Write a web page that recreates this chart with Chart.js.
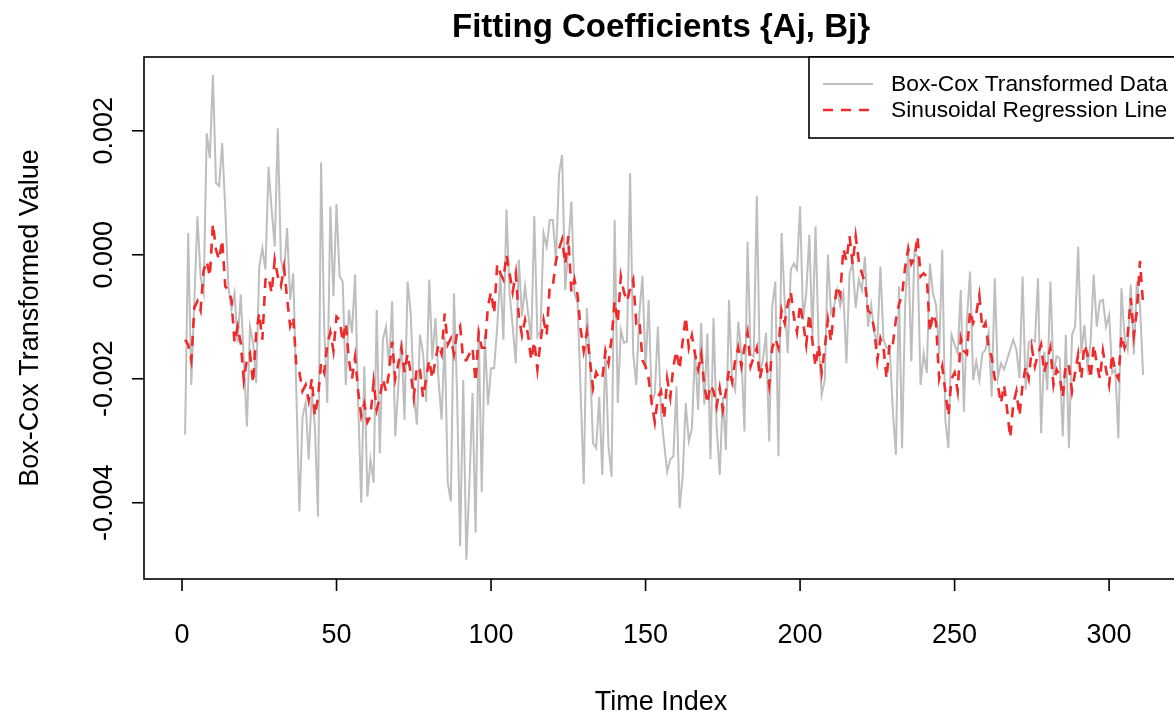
<!DOCTYPE html>
<html>
<head>
<meta charset="utf-8">
<script src="https://cdn.jsdelivr.net/npm/chart.js@4"></script>
<style>
  html, body { margin: 0; padding: 0; background: #fff; }
  #wrap { width: 1174px; height: 718px; }
</style>
</head>
<body>
<div id="wrap"><canvas id="fitChart" width="1174" height="718"></canvas></div>
<script>
// x positions: time index 1..311
const timeIndex = Array.from({ length: 311 }, (_, i) => i + 1);

// grey series
const boxCoxData = [
  -0.00290, 0.00035, -0.00210, -0.00073, 0.00062, -0.00035, -0.00062, 0.00196, 0.00156, 0.00290,
  0.00116, 0.00111, 0.00180, 0.00073, -0.00051, -0.00089, -0.00062, -0.00142, -0.00064, -0.00169,
  -0.00277, -0.00116, -0.00142, -0.00207, -0.00019, 0.00011, -0.00024, 0.00142, 0.00073, 0.00013,
  0.00204, -0.00008, -0.00030, 0.00043, -0.00073, -0.00030, -0.00223, -0.00414, -0.00261, -0.00239,
  -0.00330, -0.00223, -0.00277, -0.00422, 0.00149, -0.00116, -0.00239, 0.00078, -0.00067, 0.00082,
  -0.00035, -0.00043, -0.00210, -0.00089, -0.00126, -0.00032, -0.00239, -0.00400, -0.00180, -0.00390,
  -0.00330, -0.00368, -0.00089, -0.00320, -0.00137, -0.00116, -0.00180, -0.00075, -0.00293, -0.00212,
  -0.00137, -0.00266, -0.00043, -0.00094, -0.00223, -0.00274, -0.00129, -0.00159, -0.00237, -0.00040,
  -0.00169, -0.00102, -0.00202, -0.00266, -0.00132, -0.00368, -0.00398, -0.00062, -0.00223, -0.00470,
  -0.00202, -0.00492, -0.00370, -0.00223, -0.00448, -0.00118, -0.00383, -0.00129, -0.00242, -0.00183,
  -0.00183, -0.00116, -0.00030, -0.00137, 0.00073, -0.00062, -0.00116, -0.00175, -0.00008, -0.00099,
  -0.00051, -0.00094, -0.00137, 0.00062, -0.00132, -0.00124, 0.00035, 0.00013, 0.00056, 0.00056,
  -0.00008, 0.00130, 0.00161, -0.00057, 0.00013, 0.00086, -0.00062, -0.00078, -0.00223, -0.00370,
  -0.00086, -0.00169, -0.00304, -0.00312, -0.00229, -0.00355, -0.00153, -0.00309, -0.00358, 0.00056,
  -0.00239, -0.00121, -0.00142, -0.00140, 0.00132, -0.00159, -0.00210, -0.00094, -0.00034, -0.00185,
  -0.00073, -0.00239, -0.00223, -0.00116, -0.00255, -0.00304, -0.00350, -0.00330, -0.00325, -0.00212,
  -0.00409, -0.00358, -0.00239, -0.00301, -0.00280, -0.00153, -0.00250, -0.00110, -0.00242, -0.00127,
  -0.00330, -0.00102, -0.00277, -0.00355, -0.00229, -0.00315, -0.00073, -0.00202, -0.00218, -0.00108,
  -0.00159, -0.00285, 0.00021, -0.00160, -0.00164, 0.00095, -0.00191, -0.00169, -0.00126, -0.00301,
  -0.00083, -0.00043, -0.00325, 0.00035, -0.00073, -0.00159, -0.00024, -0.00014, -0.00024, 0.00078,
  -0.00105, -0.00062, 0.00032, -0.00132, 0.00046, -0.00142, -0.00226, -0.00202, 0.00000, -0.00094,
  -0.00083, -0.00057, -0.00083, -0.00062, -0.00175, -0.00030, -0.00014, -0.00086, -0.00040, -0.00057,
  -0.00003, -0.00116, -0.00081, -0.00126, -0.00142, -0.00019, -0.00137, -0.00150, -0.00148, -0.00250,
  -0.00323, -0.00051, -0.00312, -0.00081, 0.00008, -0.00172, 0.00003, -0.00003, -0.00210, -0.00159,
  -0.00191, -0.00014, -0.00062, -0.00081, -0.00160, 0.00008, -0.00266, -0.00312, -0.00129, -0.00145,
  -0.00159, -0.00057, -0.00253, -0.00105, -0.00027, -0.00202, -0.00172, -0.00202, -0.00159, -0.00153,
  -0.00126, -0.00229, -0.00038, -0.00199, -0.00175, -0.00185, -0.00169, -0.00153, -0.00137, -0.00153,
  -0.00199, -0.00035, -0.00218, -0.00142, -0.00137, -0.00140, -0.00038, -0.00288, -0.00156, -0.00218,
  -0.00043, -0.00191, -0.00164, -0.00167, -0.00293, -0.00129, -0.00312, -0.00129, -0.00116, 0.00013,
  -0.00159, -0.00113, -0.00180, -0.00142, -0.00032, -0.00116, -0.00075, -0.00073, -0.00116, -0.00097,
  -0.00191, -0.00185, -0.00296, -0.00054, -0.00132, -0.00153, -0.00048, -0.00161, -0.00043, -0.00081, -0.00194
];

// red dashed fit
const sinusoidalFit = [
  -0.00137, -0.00145, -0.00170, -0.00085, -0.00075, -0.00090, -0.00025, -0.00010, -0.00035, 0.00050,
  0.00008, -0.00008, 0.00024, -0.00051, -0.00057, -0.00073, -0.00142, -0.00116, -0.00142, -0.00202,
  -0.00169, -0.00159, -0.00207, -0.00126, -0.00094, -0.00137, -0.00040, -0.00035, -0.00062, -0.00008,
  -0.00035, -0.00050, -0.00020, -0.00070, -0.00115, -0.00100, -0.00180, -0.00190, -0.00220, -0.00210,
  -0.00235, -0.00200, -0.00260, -0.00230, -0.00175, -0.00190, -0.00145, -0.00125, -0.00155, -0.00100,
  -0.00105, -0.00140, -0.00110, -0.00170, -0.00200, -0.00165, -0.00220, -0.00260, -0.00240, -0.00270,
  -0.00260, -0.00205, -0.00250, -0.00230, -0.00200, -0.00220, -0.00190, -0.00140, -0.00200, -0.00175,
  -0.00150, -0.00190, -0.00160, -0.00190, -0.00230, -0.00180, -0.00185, -0.00230, -0.00200, -0.00170,
  -0.00200, -0.00170, -0.00145, -0.00160, -0.00095, -0.00145, -0.00135, -0.00160, -0.00125, -0.00115,
  -0.00170, -0.00170, -0.00160, -0.00150, -0.00205, -0.00126, -0.00150, -0.00150, -0.00083, -0.00060,
  -0.00095, -0.00015, -0.00030, -0.00040, 0.00000, -0.00030, -0.00060, -0.00030, -0.00100, -0.00130,
  -0.00105, -0.00130, -0.00170, -0.00140, -0.00185, -0.00140, -0.00105, -0.00130, -0.00050, -0.00050,
  -0.00010, 0.00010, 0.00025, -0.00015, 0.00030, -0.00060, -0.00040, -0.00065, -0.00120, -0.00155,
  -0.00125, -0.00170, -0.00215, -0.00190, -0.00200, -0.00200, -0.00155, -0.00175, -0.00135, -0.00075,
  -0.00110, -0.00035, -0.00060, -0.00075, -0.00055, -0.00040, -0.00110, -0.00105, -0.00170, -0.00180,
  -0.00200, -0.00240, -0.00270, -0.00230, -0.00220, -0.00265, -0.00200, -0.00230, -0.00180, -0.00155,
  -0.00185, -0.00140, -0.00100, -0.00150, -0.00130, -0.00160, -0.00185, -0.00160, -0.00210, -0.00240,
  -0.00210, -0.00220, -0.00245, -0.00215, -0.00250, -0.00220, -0.00185, -0.00205, -0.00170, -0.00150,
  -0.00180, -0.00150, -0.00125, -0.00180, -0.00165, -0.00150, -0.00200, -0.00175, -0.00175, -0.00210,
  -0.00150, -0.00135, -0.00150, -0.00090, -0.00110, -0.00080, -0.00060, -0.00100, -0.00125, -0.00080,
  -0.00110, -0.00145, -0.00095, -0.00140, -0.00180, -0.00145, -0.00190, -0.00150, -0.00105, -0.00140,
  -0.00085, -0.00050, -0.00065, 0.00010, -0.00010, 0.00030, -0.00015, 0.00030, -0.00010, -0.00030,
  -0.00045, -0.00090, -0.00095, -0.00120, -0.00170, -0.00135, -0.00150, -0.00200, -0.00140, -0.00145,
  -0.00105, -0.00080, -0.00065, -0.00020, 0.00010, -0.00015, -0.00005, 0.00030, -0.00035, -0.00030,
  -0.00035, -0.00125, -0.00095, -0.00110, -0.00200, -0.00180, -0.00220, -0.00260, -0.00200, -0.00190,
  -0.00220, -0.00135, -0.00155, -0.00160, -0.00090, -0.00110, -0.00095, -0.00065, -0.00120, -0.00110,
  -0.00150, -0.00165, -0.00200, -0.00210, -0.00240, -0.00210, -0.00250, -0.00295, -0.00240, -0.00220,
  -0.00260, -0.00210, -0.00180, -0.00200, -0.00150, -0.00180, -0.00160, -0.00145, -0.00190, -0.00170,
  -0.00150, -0.00210, -0.00185, -0.00195, -0.00230, -0.00175, -0.00180, -0.00220, -0.00190, -0.00160,
  -0.00200, -0.00145, -0.00160, -0.00200, -0.00145, -0.00175, -0.00200, -0.00155, -0.00185, -0.00210,
  -0.00160, -0.00190, -0.00200, -0.00130, -0.00150, -0.00130, -0.00070, -0.00130, -0.00090, -0.00010, -0.00080
];

const xTicks = [0, 50, 100, 150, 200, 250, 300];
const yTicks = [-0.004, -0.002, 0, 0.002];
const yTickLabels = ['-0.004', '-0.002', '0.000', '0.002'];
const seriesNames = ['Box-Cox Transformed Data', 'Sinusoidal Regression Line'];

const GREY = '#bebebe';
const RED = '#ee2a2a';
const FONT = '"Liberation Sans", Arial, Helvetica, sans-serif';

// R-style frame, axes, titles and legend
const rStylePlugin = {
  id: 'rStyle',
  afterDraw(chart) {
    const { ctx, chartArea: a, scales: { x, y } } = chart;
    ctx.save();
    ctx.strokeStyle = '#000';
    ctx.fillStyle = '#000';
    ctx.lineWidth = 1.6;

    // plot box (right edge runs off the picture)
    ctx.strokeRect(a.left, a.top, a.right - a.left + 10, a.bottom - a.top);

    // x axis
    ctx.font = '27px ' + FONT;
    ctx.textAlign = 'center';
    ctx.textBaseline = 'alphabetic';
    xTicks.forEach(v => {
      const px = x.getPixelForValue(v);
      ctx.beginPath();
      ctx.moveTo(px, a.bottom);
      ctx.lineTo(px, a.bottom + 12);
      ctx.stroke();
      ctx.fillText(String(v), px, 643);
    });

    // y axis, labels turned like R does
    yTicks.forEach((v, i) => {
      const py = y.getPixelForValue(v);
      ctx.beginPath();
      ctx.moveTo(a.left, py);
      ctx.lineTo(a.left - 12, py);
      ctx.stroke();
      ctx.save();
      ctx.translate(112, py);
      ctx.rotate(-Math.PI / 2);
      ctx.fillText(yTickLabels[i], 0, 0);
      ctx.restore();
    });

    // axis titles
    ctx.fillText('Time Index', 661, 710);
    ctx.save();
    ctx.translate(38, (a.top + a.bottom) / 2);
    ctx.rotate(-Math.PI / 2);
    ctx.fillText('Box-Cox Transformed Value', 0, 0);
    ctx.restore();

    // main title
    ctx.font = 'bold 33px ' + FONT;
    ctx.fillText('Fitting Coefficients {Aj, Bj}', 661, 37);

    // legend
    const lx = 809, ly = a.top, lh = 81;
    ctx.fillStyle = '#fff';
    ctx.fillRect(lx, ly, 400, lh);
    ctx.fillStyle = '#000';
    ctx.strokeRect(lx, ly, 400, lh);
    ctx.font = '22.8px ' + FONT;
    ctx.textAlign = 'left';
    ctx.textBaseline = 'middle';
    const rows = [
      { name: seriesNames[0], color: GREY, width: 2, dash: [] },
      { name: seriesNames[1], color: RED, width: 2.6, dash: [10, 8] }
    ];
    rows.forEach((r, i) => {
      const ry = ly + 27 + i * 26;
      ctx.save();
      ctx.strokeStyle = r.color;
      ctx.lineWidth = r.width;
      ctx.setLineDash(r.dash);
      ctx.beginPath();
      ctx.moveTo(823, ry);
      ctx.lineTo(873, ry);
      ctx.stroke();
      ctx.restore();
      ctx.fillText(r.name, 891, ry + 1);
    });
    ctx.restore();
  }
};

const ctxFit = document.getElementById('fitChart').getContext('2d');
const fitChart = new Chart(ctxFit, {
  type: 'line',
  data: {
    datasets: [
      {
        label: seriesNames[0],
        data: timeIndex.map((t, i) => ({ x: t, y: boxCoxData[i] })),
        borderColor: GREY,
        borderWidth: 2,
        pointRadius: 0,
        tension: 0,
        fill: false,
        order: 2
      },
      {
        label: seriesNames[1],
        data: timeIndex.map((t, i) => ({ x: t, y: sinusoidalFit[i] })),
        borderColor: RED,
        borderWidth: 2.6,
        borderDash: [10, 8],
        pointRadius: 0,
        tension: 0,
        fill: false,
        order: 1
      }
    ]
  },
  options: {
    responsive: false,
    animation: false,
    devicePixelRatio: 1,
    layout: { padding: { left: 144, top: 57, right: 0, bottom: 139 } },
    scales: {
      x: { type: 'linear', min: -12.3, max: 321, display: false },
      y: { type: 'linear', min: -0.00523, max: 0.00319, display: false }
    },
    plugins: {
      legend: { display: false },
      tooltip: { enabled: false }
    }
  },
  plugins: [rStylePlugin]
});
</script>
</body>
</html>
